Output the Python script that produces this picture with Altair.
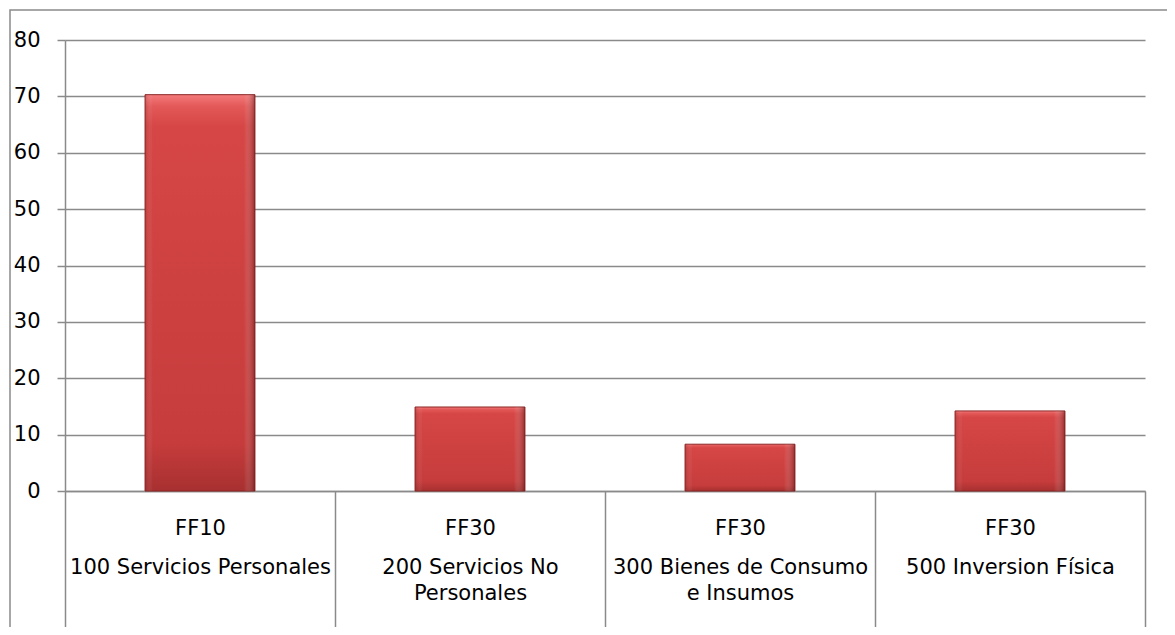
import altair as alt
import pandas as pd

# Data
fuentes = ["FF10", "FF30", "FF30", "FF30"]
objetos = [
    ["100 Servicios Personales"],
    ["200 Servicios No", "Personales"],
    ["300 Bienes de Consumo", "e Insumos"],
    ["500 Inversion Física"],
]
valores = [70.3, 14.9, 8.3, 14.2]
y_ticks = [0, 10, 20, 30, 40, 50, 60, 70, 80]

# Two-level category label: source row, gap lines, then (wrapped) object lines
BLANK = "\u200b"
GAP = "|" + BLANK + "|" + BLANK + "|"
claves = [f + GAP + ("|" + BLANK + "|").join(o) for f, o in zip(fuentes, objetos)]
df = pd.DataFrame({"clave": claves, "valor": valores})

GRAY = "#8a8a8a"
FONT = "DejaVu Sans"
W, H = 1080, 451

x_enc = alt.X(
    "clave:N",
    sort=None,
    scale=alt.Scale(paddingInner=0, paddingOuter=0),
    axis=alt.Axis(
        title=None,
        labelExpr="split(datum.label, '|')",
        labelAngle=0,
        labelFont=FONT,
        labelFontSize=21,
        labelColor="black",
        labelLineHeight=13,
        labelBaseline="top",
        labelAlign="center",
        labelPadding=-110,
        labelLimit=600,
        labelOverlap=False,
        tickBand="extent",
        tickSize=136,
        tickColor=GRAY,
        tickWidth=1.5,
        domainColor=GRAY,
        domainWidth=1.5,
    ),
)
y_enc = alt.Y(
    "valor:Q",
    scale=alt.Scale(domain=[0, 80], nice=False),
    axis=alt.Axis(
        title=None,
        values=y_ticks,
        labelFont=FONT,
        labelFontSize=21,
        labelColor="black",
        labelPadding=17,
        tickSize=8,
        tickColor=GRAY,
        tickWidth=1.5,
        domainColor=GRAY,
        domainWidth=1.5,
        gridColor=GRAY,
        gridWidth=1.5,
    ),
)

base = alt.Chart(df).encode(x=x_enc, y=y_enc)
BAR_W = alt.RelativeBandSize(0.407)

bars = base.mark_bar(
    width=BAR_W,
    fill=alt.Gradient(
        gradient="linear",
        x1=0, x2=0, y1=0, y2=1,
        stops=[
            alt.GradientStop(offset=0, color="#f47a7a"),
            alt.GradientStop(offset=0.03, color="#e35858"),
            alt.GradientStop(offset=0.08, color="#d64646"),
            alt.GradientStop(offset=0.88, color="#c63c3c"),
            alt.GradientStop(offset=1, color="#a83030"),
        ],
    ),
    stroke="#8b2323",
    strokeWidth=1,
)

shade = base.mark_bar(
    width=BAR_W,
    fill=alt.Gradient(
        gradient="linear",
        x1=0, x2=1, y1=0, y2=0,
        stops=[
            alt.GradientStop(offset=0, color="rgba(120,20,20,0.25)"),
            alt.GradientStop(offset=0.07, color="rgba(255,255,255,0)"),
            alt.GradientStop(offset=0.9, color="rgba(255,255,255,0)"),
            alt.GradientStop(offset=1, color="rgba(80,10,10,0.45)"),
        ],
    ),
)

frame = alt.Chart(pd.DataFrame({"f": [0]})).mark_rect(
    fill="transparent", stroke=GRAY, strokeWidth=1.5
).encode(
    x=alt.value(-55), x2=alt.value(W + 60),
    y=alt.value(-30), y2=alt.value(H + 170),
)

chart = (
    alt.layer(frame, bars, shade)
    .properties(
        width=W,
        height=H,
        autosize=alt.AutoSizeParams(type="none"),
        padding={"left": 57, "top": 32, "right": 22, "bottom": 136},
        background="white",
    )
    .configure_view(strokeWidth=0)
)

chart.save("out.html", embed_options={"renderer": "svg", "actions": False})
